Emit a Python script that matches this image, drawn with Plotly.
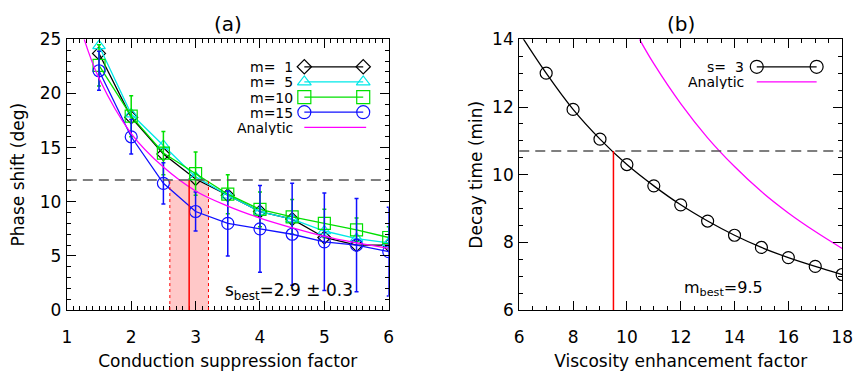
import plotly.graph_objects as go

# ---------------- data: panel (a) ----------------
s_vals = [1.5, 2.0, 2.5, 3.0, 3.5, 4.0, 4.5, 5.0, 5.5, 6.0]
phase_m1 = [23.7, 17.8, 14.4, 12.1, 10.6, 9.1, 8.4, 6.7, 6.0, 6.0]
phase_m5 = [24.4, 18.1, 15.2, 12.3, 10.6, 9.1, 8.4, 7.3, 6.6, 6.2]
phase_m10 = [22.6, 17.9, 14.5, 12.6, 10.7, 9.3, 8.6, 8.0, 7.4, 6.7]
err_m10 = [1.9, 1.9, 2.0, 2.0, 1.8, 1.6, 1.6, 1.3, 1.1, 1.0]
phase_m15 = [22.1, 16.0, 11.7, 9.1, 8.0, 7.5, 7.0, 6.3, 6.0, 5.4]
err_m15 = [1.8, 1.6, 1.9, 1.8, 3.0, 4.0, 4.7, 4.5, 4.3, 4.1]
s_analytic = [1.27, 1.5, 2.0, 2.5, 3.0, 3.5, 4.0, 4.5, 5.0, 5.5, 6.0]
phase_analytic = [25.0, 21.4, 16.3, 13.2, 11.0, 9.6, 8.5, 7.6, 6.8, 6.2, 5.7]
phase_obs = 12.0
s_best, s_err = 2.9, 0.3

# ---------------- data: panel (b) ----------------
m_line = [6, 7, 8, 9, 10, 11, 12, 13, 14, 15, 16, 17, 18]
tau_line = [14.2, 13.0, 11.93, 11.05, 10.3, 9.67, 9.11, 8.63, 8.21, 7.85, 7.55, 7.29, 7.05]
m_vals = [7, 8, 9, 10, 11, 12, 13, 14, 15, 16, 17, 18]
tau_s3 = [13.0, 11.93, 11.05, 10.3, 9.67, 9.11, 8.63, 8.21, 7.85, 7.55, 7.29, 7.05]
m_analytic = [10.47, 11, 12, 13, 14, 15, 16, 17, 18]
tau_analytic = [14.0, 13.28, 12.1, 11.09, 10.24, 9.5, 8.87, 8.32, 7.82]
tau_obs = 10.7
m_best = 9.5

FONT = "DejaVu Sans"
BLACK = "#000000"
CYAN = "#00e8e8"
GREEN = "#00e000"
BLUE = "#1010ff"
MAG = "#ff00ff"
RED = "#ff0000"

W, H = 861, 374
# panel domains in pixels
AX0, AX1 = 63, 391
BX0, BX1 = 524, 853
PT, PB = 31, 317

fig = go.Figure()

# ---- panel (a) traces ----
lw = 1.3
fig.add_trace(go.Scatter(x=s_vals, y=phase_m1, mode="lines+markers", xaxis="x", yaxis="y",
                         line=dict(color=BLACK, width=lw),
                         marker=dict(symbol="diamond-open", size=10, color=BLACK, line=dict(width=1.2))))
fig.add_trace(go.Scatter(x=s_vals, y=phase_m5, mode="lines+markers", xaxis="x", yaxis="y",
                         line=dict(color=CYAN, width=lw),
                         marker=dict(symbol="triangle-up-open", size=11, color=CYAN, line=dict(width=1.2))))
fig.add_trace(go.Scatter(x=s_vals, y=phase_m10, mode="lines+markers", xaxis="x", yaxis="y",
                         line=dict(color=GREEN, width=lw),
                         error_y=dict(type="data", array=err_m10, color=GREEN, thickness=1.5, width=2),
                         marker=dict(symbol="square-open", size=12, color=GREEN, line=dict(width=1.2))))
fig.add_trace(go.Scatter(x=s_vals, y=phase_m15, mode="lines+markers", xaxis="x", yaxis="y",
                         line=dict(color=BLUE, width=lw),
                         error_y=dict(type="data", array=err_m15, color=BLUE, thickness=1.5, width=2),
                         marker=dict(symbol="circle-open", size=12, color=BLUE, line=dict(width=1.2))))
fig.add_trace(go.Scatter(x=s_analytic, y=phase_analytic, mode="lines", xaxis="x", yaxis="y",
                         line=dict(color=MAG, width=lw, shape="spline")))

# ---- panel (b) traces ----
fig.add_trace(go.Scatter(x=m_line, y=tau_line, mode="lines", xaxis="x2", yaxis="y2",
                         line=dict(color=BLACK, width=lw, shape="spline")))
fig.add_trace(go.Scatter(x=m_vals, y=tau_s3, mode="markers", xaxis="x2", yaxis="y2",
                         marker=dict(symbol="circle-open", size=12, color=BLACK, line=dict(width=1.2))))
fig.add_trace(go.Scatter(x=m_analytic, y=tau_analytic, mode="lines", xaxis="x2", yaxis="y2",
                         line=dict(color=MAG, width=lw, shape="spline")))

# ---- custom legends on an overlay pixel axis ----
def leg_line(x0, x1, y, color, symbol=None, size=11):
    fig.add_trace(go.Scatter(x=[x0, x1], y=[y, y], xaxis="x3", yaxis="y3",
                             mode="lines+markers" if symbol else "lines",
                             line=dict(color=color, width=lw),
                             marker=dict(symbol=symbol or "circle", size=size, color=color, line=dict(width=1.2)),
                             cliponaxis=False))

legA = [("m=  1", BLACK, "diamond-open", 11), ("m=  5", CYAN, "triangle-up-open", 12),
        ("m=10", GREEN, "square-open", 13), ("m=15", BLUE, "circle-open", 13), ("Analytic", MAG, None, 0)]
ys = [60, 76, 92, 108, 124]
for (lab, col, sym, sz), yy in zip(legA, ys):
    x1 = 365 if sym else 368
    leg_line(305, x1, yy, col, sym, sz)
legB = [("s=  3", BLACK, "circle-open", 13), ("Analytic", MAG, None, 0)]
ysB = [60, 76]
for (lab, col, sym, sz), yy in zip(legB, ysB):
    leg_line(766, 827, yy, col, sym, sz)

LEGF = dict(size=14, color=BLACK, family=FONT)
annotations = []
for (lab, col, sym, sz), yy in zip(legA, ys):
    annotations.append(dict(x=294, y=yy, xref="x3", yref="y3", text=lab, showarrow=False,
                            xanchor="right", yanchor="middle", height=15, borderpad=0, font=LEGF))
for (lab, col, sym, sz), yy in zip(legB, ysB):
    annotations.append(dict(x=754, y=yy, xref="x3", yref="y3", text=lab, showarrow=False,
                            xanchor="right", yanchor="middle", height=15, borderpad=0, font=LEGF))

annotations += [
    dict(x=(AX0 + AX1) / 2, y=15, xref="x3", yref="y3", text="(a)", showarrow=False,
         xanchor="center", yanchor="middle", font=dict(size=20, family=FONT, color=BLACK)),
    dict(x=(BX0 + BX1) / 2, y=15, xref="x3", yref="y3", text="(b)", showarrow=False,
         xanchor="center", yanchor="middle", font=dict(size=20, family=FONT, color=BLACK)),
    dict(x=4.45, y=1.75, xref="x", yref="y", text="s<sub>best</sub>=2.9 ± 0.3", showarrow=False,
         font=dict(size=17, family=FONT, color=BLACK)),
    dict(x=13.6, y=6.65, xref="x2", yref="y2", text="m<sub>best</sub>=9.5", showarrow=False,
         font=dict(size=16, family=FONT, color=BLACK)),
]

DASH = "10px,6px"
shapes = [
    # shaded best-fit band (a)
    dict(type="rect", xref="x", yref="y", x0=s_best - s_err, x1=s_best + s_err, y0=0, y1=phase_obs,
         fillcolor="rgba(255,190,190,0.85)", line=dict(width=0), layer="below"),
    dict(type="line", xref="x", yref="y", x0=s_best - s_err, x1=s_best - s_err, y0=0, y1=phase_obs,
         line=dict(color=RED, width=1, dash="dot")),
    dict(type="line", xref="x", yref="y", x0=s_best + s_err, x1=s_best + s_err, y0=0, y1=phase_obs,
         line=dict(color=RED, width=1, dash="dot")),
    dict(type="line", xref="x", yref="y", x0=s_best, x1=s_best, y0=0, y1=phase_obs,
         line=dict(color=RED, width=1.5)),
    dict(type="line", xref="x domain", yref="y", x0=0, x1=1, y0=phase_obs, y1=phase_obs,
         line=dict(color="#555555", width=1.5, dash=DASH)),
    # panel (b)
    dict(type="line", xref="x2", yref="y2", x0=m_best, x1=m_best, y0=6, y1=tau_obs,
         line=dict(color=RED, width=1.5)),
    dict(type="line", xref="x2 domain", yref="y2", x0=0, x1=1, y0=tau_obs, y1=tau_obs,
         line=dict(color="#555555", width=1.5, dash=DASH)),
]

axcommon = dict(showgrid=False, zeroline=False, showline=True, linecolor=BLACK, linewidth=1.2,
                mirror="allticks", ticks="inside", ticklen=9, tickwidth=1.2, tickcolor=BLACK,
                tickfont=dict(size=17, family=FONT, color=BLACK),
                title_font=dict(size=17, family=FONT, color=BLACK))
xextra = dict(ticklabelstandoff=11)
yextra = dict(ticklabelstandoff=1)

fig.update_layout(
    width=W, height=H, margin=dict(l=0, r=0, t=0, b=0),
    paper_bgcolor="white", plot_bgcolor="rgba(0,0,0,0)", showlegend=False,
    xaxis=dict(axcommon, **xextra, domain=[AX0 / W, AX1 / W], range=[1, 6], dtick=1, tick0=1,
               minor=dict(ticks="inside", ticklen=4, dtick=0.1, tickcolor=BLACK, tickwidth=1),
               title=dict(text="Conduction suppression factor", standoff=9), anchor="y"),
    yaxis=dict(axcommon, **yextra, domain=[1 - PB / H, 1 - PT / H], range=[0, 25], dtick=5, tick0=0,
               minor=dict(ticks="inside", ticklen=4, dtick=1, tickcolor=BLACK, tickwidth=1),
               title=dict(text="Phase shift (deg)", standoff=10), anchor="x"),
    xaxis2=dict(axcommon, **xextra, domain=[BX0 / W, BX1 / W], range=[6, 18], dtick=2, tick0=6,
                minor=dict(ticks="inside", ticklen=4, dtick=0.5, tickcolor=BLACK, tickwidth=1),
                title=dict(text="Viscosity enhancement factor", standoff=9), anchor="y2"),
    yaxis2=dict(axcommon, **yextra, domain=[1 - PB / H, 1 - PT / H], range=[6, 14], dtick=2, tick0=6,
                minor=dict(ticks="inside", ticklen=4, dtick=0.5, tickcolor=BLACK, tickwidth=1),
                title=dict(text="Decay time (min)", standoff=5), anchor="x2"),
    xaxis3=dict(domain=[0, 1], range=[0, W], visible=False, anchor="y3", fixedrange=True),
    yaxis3=dict(domain=[0, 1], range=[H, 0], visible=False, anchor="x3", fixedrange=True),
    annotations=annotations,
    shapes=shapes,
)

fig.write_html("out.html")
